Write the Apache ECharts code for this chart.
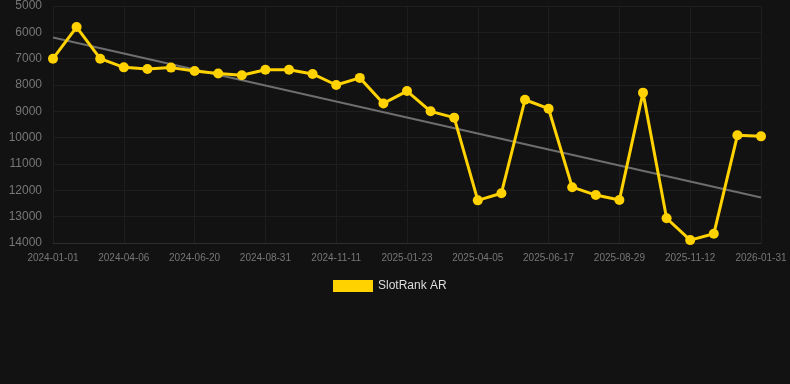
<!DOCTYPE html>
<html>
<head>
<meta charset="utf-8">
<script src="https://cdn.jsdelivr.net/npm/echarts@6/dist/echarts.min.js"></script>
<style>
html,body{margin:0;padding:0;background:#121212;}
#chart{width:790px;height:384px;}
</style>
</head>
<body>
<div id="chart"></div>
<script>
var dates = [
  '2024-01-01','2024-02-01','2024-03-05','2024-04-06','2024-05-01','2024-05-26',
  '2024-06-20','2024-07-14','2024-08-07','2024-08-31','2024-09-24','2024-10-18',
  '2024-11-11','2024-12-05','2024-12-29','2025-01-23','2025-02-16','2025-03-12',
  '2025-04-05','2025-04-29','2025-05-24','2025-06-17','2025-07-11','2025-08-05',
  '2025-08-29','2025-09-23','2025-10-18','2025-11-12','2025-12-08','2026-01-04',
  '2026-01-31'
];
var rankValues = [
  7000, 5800, 7000, 7330, 7390, 7340,
  7470, 7560, 7630, 7420, 7420, 7580,
  8000, 7730, 8700, 8230, 9000, 9240,
  12380, 12110, 8560, 8900, 11880, 12180,
  12370, 8290, 13060, 13890, 13650, 9910,
  9950
];
var trendStart = 6200;
var trendEnd = 12270;
var yTicks = [5000, 14000, 1000]; // min, max, interval

var trendData = dates.map(function(d, i){
  if (i === 0) return trendStart;
  if (i === dates.length - 1) return trendEnd;
  return null;
});

var chart = echarts.init(document.getElementById('chart'));
chart.setOption({
  backgroundColor: '#121212',
  animation: false,
  grid: { left: 53, right: 29, top: 6, bottom: 141, containLabel: false },
  legend: {
    data: ['SlotRank AR'],
    top: 275,
    left: 328,
    itemWidth: 40,
    itemHeight: 12,
    icon: 'rect',
    textStyle: { color: '#dddddd', fontSize: 12, fontFamily: 'Liberation Sans, Arial, sans-serif' }
  },
  xAxis: {
    type: 'category',
    data: dates,
    boundaryGap: false,
    axisLine: { show: true, lineStyle: { color: '#2e2e2e' } },
    axisTick: { show: false },
    axisLabel: { color: '#777777', fontSize: 10, interval: 2, margin: 10, fontFamily: 'Liberation Sans, Arial, sans-serif' },
    splitLine: { show: true, interval: 2, lineStyle: { color: '#1e1e1e' } }
  },
  yAxis: {
    type: 'value',
    inverse: true,
    min: yTicks[0],
    max: yTicks[1],
    interval: yTicks[2],
    axisLine: { show: false },
    axisTick: { show: false },
    axisLabel: { color: '#777777', fontSize: 12, margin: 11, fontFamily: 'Liberation Sans, Arial, sans-serif',
      formatter: function(v){ return String(v); } },
    splitLine: { show: true, lineStyle: { color: '#1e1e1e' } }
  },
  series: [
    {
      name: 'SlotRank AR',
      type: 'line',
      data: rankValues,
      color: '#FFD200',
      lineStyle: { width: 3, color: '#FFD200' },
      itemStyle: { color: '#FFD200' },
      symbol: 'circle',
      symbolSize: 10,
      z: 3
    },
    {
      name: 'trend',
      type: 'line',
      data: trendData,
      connectNulls: true,
      symbol: 'none',
      lineStyle: { width: 2, color: '#6e6e6e' },
      itemStyle: { color: '#6e6e6e' },
      z: 2
    }
  ]
});
</script>
</body>
</html>
